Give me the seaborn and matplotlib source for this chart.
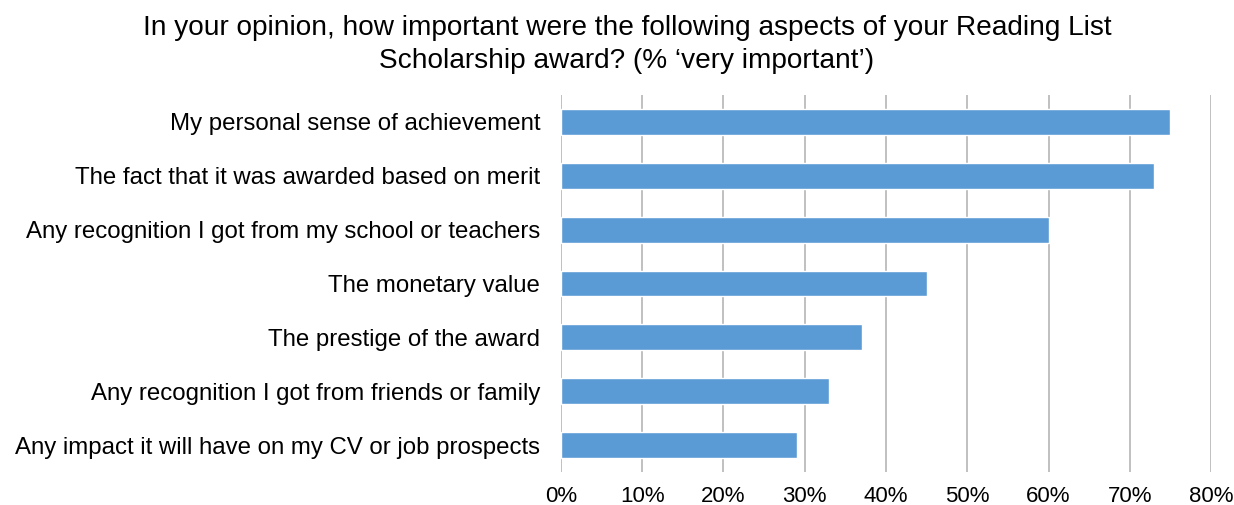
import matplotlib
matplotlib.use("Agg")
import matplotlib.pyplot as plt
import seaborn as sns
import pandas as pd
from matplotlib.ticker import PercentFormatter

# --- Data ---
aspects = [
    "My personal sense of achievement",
    "The fact that it was awarded based on merit",
    "Any recognition I got from my school or teachers",
    "The monetary value",
    "The prestige of the award",
    "Any recognition I got from friends or family",
    "Any impact it will have on my CV or job prospects",
]
very_important = [75, 73, 60, 45, 37, 33, 29]
x_ticks = [0, 10, 20, 30, 40, 50, 60, 70, 80]

df = pd.DataFrame({"Aspect": aspects, "Pct": very_important})

# --- Styling ---
sns.set_style("white")
plt.rcParams["font.family"] = ["Liberation Sans", "DejaVu Sans"]

fig = plt.figure(figsize=(12.34, 5.05), dpi=100)
ax = fig.add_axes([0.4546, 0.0653, 0.5268, 0.7466])

sns.barplot(data=df, x="Pct", y="Aspect", color="#5B9BD5", width=0.48,
            saturation=1, ax=ax, zorder=3)

ax.set_xlim(0, 80)
ax.set_xticks(x_ticks)
ax.xaxis.set_major_formatter(PercentFormatter(decimals=0))
ax.grid(axis="x", color="#BBBBBB", linewidth=1.3, zorder=0)
ax.set_axisbelow(True)
for s in ax.spines.values():
    s.set_visible(False)
ax.tick_params(axis="x", length=5, width=1.3, color="#BBBBBB", labelsize=16,
               pad=5, labelcolor="black")
ax.tick_params(axis="y", length=0, labelsize=17.3, pad=15, labelcolor="black")
ax.set_xlabel("")
ax.set_ylabel("")

fig.suptitle("In your opinion, how important were the following aspects of your Reading List\n"
             "Scholarship award? (% \u2018very important\u2019)",
             x=0.508, y=0.97, fontsize=20.2, linespacing=1.35, color="black")

fig.savefig("out.png", dpi=100)
